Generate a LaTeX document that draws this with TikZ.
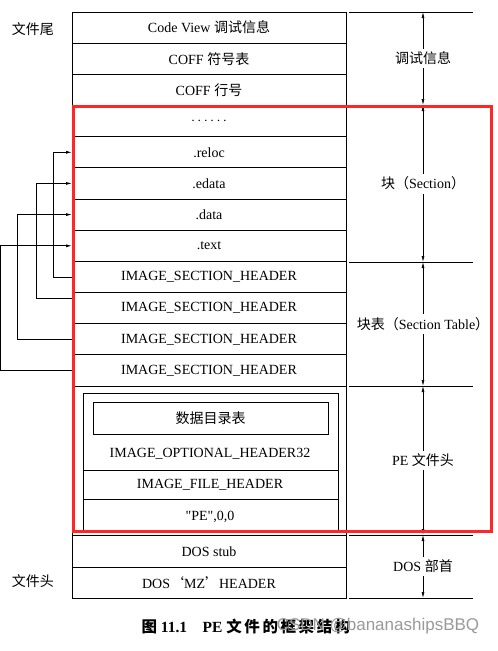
\documentclass[tikz,border=0pt]{standalone}
\usepackage{fontspec}
\setmainfont{Liberation Serif}
\setsansfont{Liberation Sans}
\newfontfamily\cjk{Noto Sans CJK SC}
\usetikzlibrary{arrows.meta}

\begin{document}
\begin{tikzpicture}[x=1pt, y=-1pt, line width=0.9pt, font=\fontsize{14}{16}\selectfont,
    row/.style={draw, minimum width=274pt, minimum height=31.17pt, inner sep=0pt, outer sep=0pt},
    span/.style={{Latex[length=6pt,width=3pt]}-{Latex[length=6pt,width=3pt]}, line width=0.7pt},
    link/.style={-{Latex[length=6pt,width=3pt]}, line width=0.8pt}]
    \useasboundingbox (0,0) rectangle (498,651);
    % file tail: debug info
    \node[row] (cv)    at (209,27.6)  {Code View {\cjk 调试信息}};
    \node[row] (sym)   at (209,58.8)  {COFF {\cjk 符号表}};
    \node[row] (line)  at (209,89.9)  {COFF {\cjk 行号}};
    % sections
    \node[row] (dots)  at (209,121.1) {$\cdots\cdots$};
    \node[row] (reloc) at (209,152.3) {.reloc};
    \node[row] (edata) at (209,183.4) {.edata};
    \node[row] (data)  at (209,214.6) {.data};
    \node[row] (text)  at (209,245.8) {.text};
    % section table
    \node[row] (ish1)  at (209,276.9) {IMAGE\_SECTION\_HEADER};
    \node[row] (ish2)  at (209,308.1) {IMAGE\_SECTION\_HEADER};
    \node[row] (ish3)  at (209,339.3) {IMAGE\_SECTION\_HEADER};
    \node[row] (ish4)  at (209,370.4) {IMAGE\_SECTION\_HEADER};
    % PE header
    \node[row, minimum height=149pt] (pe) at (209,460.5) {};
    \draw (83,393) rectangle (338,531);
    \node[draw, minimum width=235pt, minimum height=32pt, inner sep=0pt] (dir) at (210.5,418) {\cjk 数据目录表};
    \node (opt) at (210,454) {IMAGE\_OPTIONAL\_HEADER32};
    \draw (83,470) -- (338,470);
    \node (fh) at (210,485) {IMAGE\_FILE\_HEADER};
    \draw (83,499) -- (338,499);
    \node (sig) at (210,517) {\textquotedbl PE\textquotedbl,0,0};
    % DOS header
    \node[row, minimum height=31.5pt] (stub) at (209,551.3) {DOS stub};
    \node[row, minimum height=31.5pt] (mz)   at (209,582.8) {DOS{\cjk ‘}MZ{\cjk ’}HEADER};
    % side labels
    \node (tail) at (33,29)  {\cjk 文件尾};
    \node (head) at (33,581) {\cjk 文件头};
    % section table -> sections
    \draw[link] (ish1.west) -- ++(-19,0) |- (reloc.west);
    \draw[link] ([yshift=10pt]ish2.west) -- ++(-36,0) |- (edata.west);
    \draw[link] (ish3.west) -- ++(-55,0) |- (data.west);
    \draw[link] (ish4.west) -- ++(-72,0) |- (text.west);
    % right column
    \foreach \y in {12,105,262,386,535,598} \draw (349,\y) -- (473,\y);
    \coordinate (r0) at (423,12);
    \coordinate (r1) at (423,105);
    \coordinate (r2) at (423,262);
    \coordinate (r3) at (423,386);
    \coordinate (r4) at (423,535);
    \coordinate (r5) at (423,598);
    \draw[span] (r0) -- node[fill=white, inner xsep=1pt] (dbg) {\cjk 调试信息} (r1);
    \draw[span] (r1) -- node[fill=white, inner xsep=1pt] (sec) {{\cjk 块（}Section{\cjk ）}} (r2);
    \draw[span] (r2) -- node[fill=white, inner xsep=1pt] (sect) {{\cjk 块表（}Section Table{\cjk ）}} (r3);
    \draw[span] (r3) -- node[fill=white, inner xsep=1pt] (peh) {PE {\cjk 文件头}} (r4);
    \draw[span] (r4) -- node[fill=white, inner xsep=1pt] (dosh) {DOS {\cjk 部首}} (r5);
    % highlight
    \draw[red!85!white, line width=3pt] (73,106) rectangle (491,531);
    % caption
    \node[font=\fontsize{15.5}{18}\selectfont\bfseries] (cap) at (246,627)
        {{\cjk 图} 11.1\quad PE {\cjk 文\,件\,的\,框\,架\,结\,构}};
    \node[font=\fontsize{17}{19}\selectfont\sffamily, text=black!40, anchor=east] (wm) at (483,626)
        {CSDN @bananashipsBBQ};
\end{tikzpicture}
\end{document}
